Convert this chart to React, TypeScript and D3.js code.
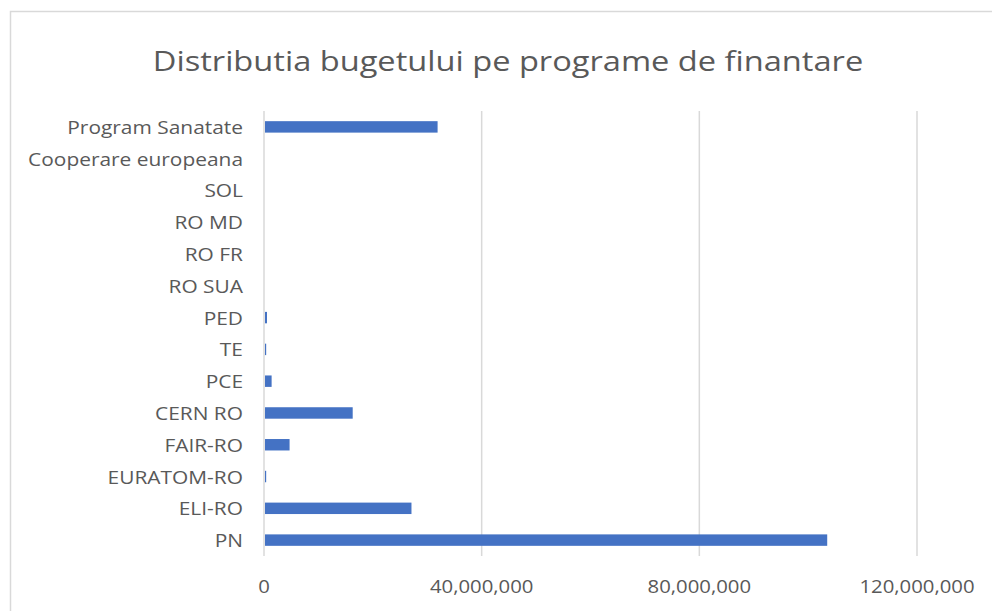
import React from 'react';
import { scaleBand, scaleLinear, format } from 'd3';

const width = 992;
const height = 611;
const margin = { top: 111, right: 75, bottom: 55, left: 264 };

// Programs, top to bottom as shown
const programs = [
  'Program Sanatate',
  'Cooperare europeana',
  'SOL',
  'RO MD',
  'RO FR',
  'RO SUA',
  'PED',
  'TE',
  'PCE',
  'CERN RO',
  'FAIR-RO',
  'EURATOM-RO',
  'ELI-RO',
  'PN',
];

// Budget (lei) per program
const budgets = [
  31900000, 0, 0, 0, 0, 0, 550000, 400000, 1400000, 16300000, 4700000, 400000,
  27100000, 103500000,
];

const xTicks = [0, 40000000, 80000000, 120000000];

const title = 'Distributia bugetului pe programe de finantare';
const textColor = '#595959';
const fontFamily = '"Open Sans", "Noto Sans", sans-serif';

const App = () => {
  const xScale = scaleLinear()
    .domain([0, 120000000])
    .range([margin.left, width - margin.right]);

  const yScale = scaleBand()
    .domain(programs)
    .range([margin.top, height - margin.bottom])
    .paddingInner(0.64)
    .paddingOuter(0.32);

  const fmt = format(',');
  const step = yScale.step();

  return (
    <svg
      width={width}
      height={height}
      style={{ position: 'absolute', left: 0, top: 0, background: '#fff' }}
      fontFamily={fontFamily}
    >
      {/* chart border */}
      <rect x={10.5} y={11.5} width={width + 20} height={height + 20} fill="#fff" stroke="#d9d9d9" strokeWidth={1.5} />

      <text
        transform={`translate(${width / 2 + 12}, 71) scale(1.165, 1)`}
        textAnchor="middle"
        fontSize={28}
        fill={textColor}
      >
        {title}
      </text>

      {/* gridlines */}
      {xTicks.slice(1).map((t) => (
        <line
          key={t}
          x1={xScale(t)}
          x2={xScale(t)}
          y1={margin.top}
          y2={height - margin.bottom}
          stroke="#d9d9d9"
          strokeWidth={1.5}
        />
      ))}

      {/* bars */}
      {programs.map((p, i) => (
        <rect
          key={p}
          x={xScale(0) + 1}
          y={yScale(p)}
          width={Math.max(0, xScale(budgets[i]) - xScale(0) - 1)}
          height={yScale.bandwidth()}
          fill="#4472c4"
        />
      ))}

      {/* category axis line */}
      <line
        x1={xScale(0)}
        x2={xScale(0)}
        y1={margin.top}
        y2={height - margin.bottom}
        stroke="#d9d9d9"
        strokeWidth={1.5}
      />

      {/* category labels */}
      {programs.map((p) => (
        <text
          key={p}
          transform={`translate(${xScale(0) - 21}, ${(yScale(p) ?? 0) + yScale.bandwidth() / 2 + 7}) scale(1.1, 1)`}
          textAnchor="end"
          fontSize={19}
          fill={textColor}
        >
          {p}
        </text>
      ))}

      {/* value tick labels */}
      {xTicks.map((t) => (
        <text
          key={t}
          transform={`translate(${xScale(t)}, ${height - margin.bottom + step / 2 + 21}) scale(1.13, 1)`}
          textAnchor="middle"
          fontSize={18}
          fill={textColor}
        >
          {fmt(t)}
        </text>
      ))}
    </svg>
  );
};

export default App;
